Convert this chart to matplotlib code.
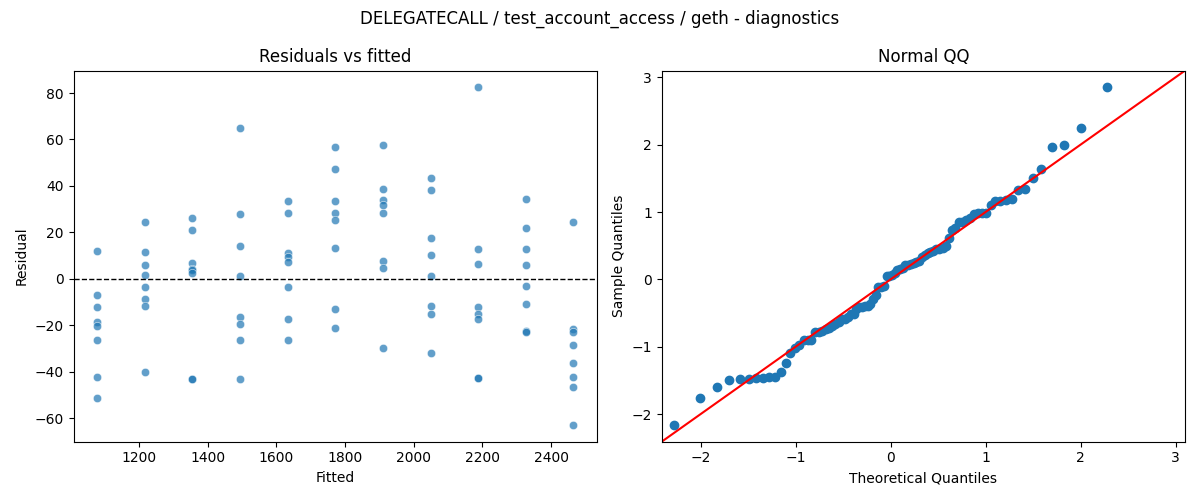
import matplotlib
matplotlib.use("Agg")
import matplotlib.pyplot as plt
import numpy as np
import seaborn as sns
from statistics import NormalDist

fitted_levels = [1079, 1218, 1356, 1495, 1633, 1772, 1910, 2049, 2187, 2326, 2464]
resid_by_level = [
    [12.0, -7.0, -12.0, -18.5, -20.2, -26.4, -42.2, -51.3],
    [24.4, 11.5, 5.9, 1.7, -3.6, -8.7, -11.8, -40.1],
    [26.2, 20.9, 6.9, 4.4, 3.9, 2.4, -43.0, -43.3],
    [64.8, 27.8, 14.1, 1.1, -16.3, -19.5, -26.4, -43.2],
    [33.4, 28.2, 11.0, 9.6, 7.2, -3.6, -17.3, -26.4],
    [56.6, 47.2, 33.4, 28.2, 25.2, 13.2, -13.0, -21.2],
    [57.5, 38.6, 34.0, 31.7, 28.2, 7.7, 4.6, -29.7],
    [43.3, 38.3, 17.5, 10.3, 1.3, -11.8, -15.2, -31.9],
    [82.4, 12.8, 6.5, -12.0, -15.2, -17.3, -42.7, -42.8],
    [34.4, 21.8, 12.8, 5.9, -3.2, -10.9, -22.6, -22.8],
    [24.4, -21.5, -22.7, -28.5, -36.3, -42.2, -46.6, -62.9],
]

fitted = np.repeat(fitted_levels, [len(r) for r in resid_by_level])
resid = np.concatenate(resid_by_level)

# normal QQ: standardized residuals against normal quantiles
n = len(resid)
sample_q = np.sort((resid - resid.mean()) / resid.std())
theo_q = np.array([NormalDist().inv_cdf(i / (n + 1)) for i in range(1, n + 1)])
qq_lims = [-2.41, 3.10]

fig, (ax1, ax2) = plt.subplots(1, 2, figsize=(12, 5), dpi=100)

sns.scatterplot(x=fitted, y=resid, alpha=0.7, ax=ax1)
ax1.axhline(0, color="black", linestyle="--", linewidth=1)
ax1.set_xlabel("Fitted")
ax1.set_ylabel("Residual")
ax1.set_title("Residuals vs fitted")

ax2.plot(theo_q, sample_q, "o", color="C0")
ax2.plot(qq_lims, qq_lims, color="red")
ax2.set_xlim(qq_lims)
ax2.set_ylim(qq_lims)
ax2.set_xlabel("Theoretical Quantiles")
ax2.set_ylabel("Sample Quantiles")
ax2.set_title("Normal QQ")

fig.suptitle("DELEGATECALL / test_account_access / geth - diagnostics")
fig.tight_layout()
fig.savefig("out.png")
